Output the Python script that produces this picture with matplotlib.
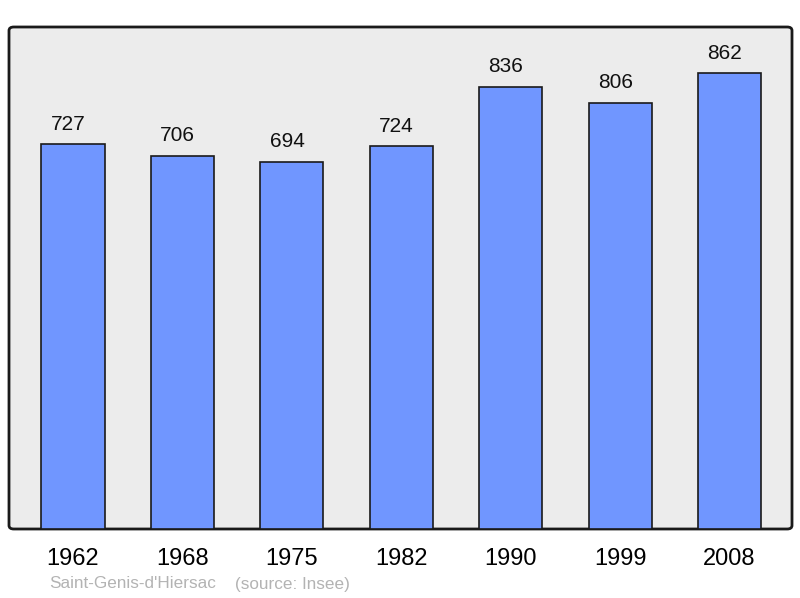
import matplotlib.pyplot as plt
from matplotlib.patches import FancyBboxPatch

years = ["1962", "1968", "1975", "1982", "1990", "1999", "2008"]
population = [727, 706, 694, 724, 836, 806, 862]
commune = "Saint-Genis-d'Hiersac"
source = "(source: Insee)"

plt.rcParams['font.family'] = ['Liberation Sans', 'DejaVu Sans']

fig = plt.figure(figsize=(8, 5.98), dpi=100)
ax = fig.add_axes([9 / 800, 69 / 598, 783 / 800, 502 / 598])
ax.set_facecolor('none')
for s in ax.spines.values():
    s.set_visible(False)

# rounded frame behind the bars
frame = FancyBboxPatch((9 / 800, 69 / 598), 783 / 800, 502 / 598,
                       boxstyle="round,pad=0,rounding_size=0.006",
                       transform=fig.transFigure, facecolor='#ececec',
                       edgecolor='#1a1a1a', linewidth=2, zorder=0,
                       clip_on=False)
ax.add_patch(frame)

x = list(range(len(years)))
bars = ax.bar(x, population, width=0.576, color='#7096ff',
              edgecolor='#1a1a1a', linewidth=1.2, zorder=2)

for xi, v in zip(x, population):
    ax.annotate(str(v), (xi, v), xytext=(-3.3, 7.5), textcoords='offset points',
                ha='center', va='bottom', fontsize=15, color='#111111')

ax.set_xlim(-0.585, 6.572)
ax.set_ylim(0, 949)
ax.set_yticks([])
ax.set_xticks(x)
ax.set_xticklabels(years, fontsize=17)
ax.tick_params(axis='x', length=0, pad=13.5)

fig.text(49 / 800, 1 - 584 / 598, commune, fontsize=12.3, color='#b3b3b3',
         ha='left', va='center')
fig.text(235 / 800, 1 - 584 / 598, source, fontsize=12.3, color='#b3b3b3',
         ha='left', va='center')

plt.savefig('out.png', dpi=100)
